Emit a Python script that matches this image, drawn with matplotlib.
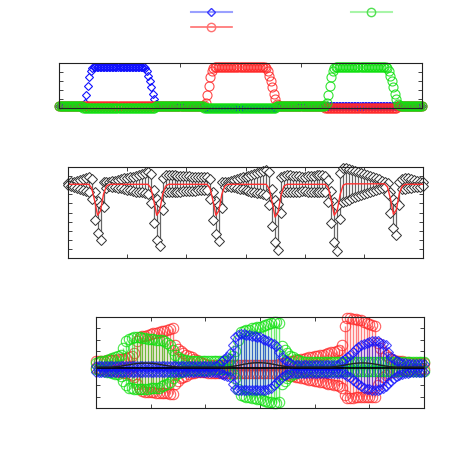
import numpy as np
import matplotlib.pyplot as plt
from matplotlib.lines import Line2D

# --- 1. Top panel: three pulses (x from 0 to 6, step 0.025) ---
x_top = np.linspace(0, 6, 241)
rise = [0.06, 0.12, 0.3, 0.5, 0.68, 0.82, 0.89, 0.91]
fall = [0.91, 0.88, 0.82, 0.72, 0.6, 0.46, 0.32, 0.2, 0.1, 0.06]
blue_top = ([0.05] * 16 + rise + [0.92] * 32 + fall
            + [0.05] * 30 + [-0.01] * 48 + [0.05] * 97)
red_top = ([0.05] * 96 + rise + [0.92] * 32 + fall
           + [0.05] * 30 + [0.0] * 48 + [0.05] * 17)
green_top = ([0.05] * 16 + [-0.01] * 48 + [0.05] * 32 + [-0.01] * 48
             + [0.05] * 32 + rise + [0.92] * 32 + fall + [0.05] * 15)

# --- 2. Middle panel: mean with min/max (x from 0 to 6, step 0.05) ---
x_mid = np.linspace(0, 6, 121)
mid_upper = [8.2, 8.3, 8.4, 8.5, 8.6, 8.7, 8.8, 8.9,
             8.7, 7.2, 6.3, 5.8, 8.4, 8.3,
             8.35, 8.45, 8.5, 8.6, 8.65, 8.75, 8.8, 8.9, 8.95, 9.05, 9.1, 9.2, 9.3, 9.4,
             9.2, 7.5, 6.5, 6.0, 8.8, 9.1,
             9.1, 9.1, 9.1, 9.05, 9.05, 9.0, 9.0, 9.0, 8.95, 8.95, 8.9, 8.9, 8.9, 8.9,
             8.7, 7.3, 6.3, 5.8, 8.3, 8.3,
             8.35, 8.45, 8.55, 8.65, 8.75, 8.85, 8.95, 9.05, 9.15, 9.25, 9.35, 9.45, 9.55, 9.65,
             9.4, 7.6, 6.4, 5.9, 8.9, 9.0,
             9.1, 9.1, 9.05, 9.0, 9.0, 8.95, 8.95, 9.0, 9.0, 9.05, 9.1, 9.1, 9.1, 9.0,
             8.6, 7.4, 6.2, 5.7, 9.3, 9.9,
             9.85, 9.75, 9.65, 9.55, 9.45, 9.35, 9.25, 9.1, 9.0, 8.9, 8.75, 8.65, 8.5, 8.4,
             8.2, 7.2, 6.5, 6.1, 8.3, 8.7,
             8.8, 8.75, 8.7, 8.6, 8.5, 8.4, 8.35]
mid_mean = ([8.1] * 8 + [7.7, 6.3, 4.7, 5.2, 7.0, 7.9]
            + [8.1] * 14 + [7.7, 6.3, 4.7, 5.2, 7.0, 7.9]
            + [8.1] * 14 + [7.7, 6.3, 4.7, 5.2, 7.0, 7.9]
            + [8.1] * 14 + [7.6, 6.1, 4.5, 5.0, 6.9, 7.9]
            + [8.1] * 14 + [7.7, 6.3, 4.7, 5.2, 7.0, 8.0]
            + [8.15] * 14 + [7.8, 6.5, 4.8, 5.3, 7.1, 7.9]
            + [8.1] * 7)
mid_lower = [8.0, 7.9, 7.8, 7.7, 7.6, 7.5, 7.4, 7.3,
             6.5, 4.2, 2.7, 2.0, 5.6, 7.7,
             7.9, 7.85, 7.8, 7.7, 7.65, 7.6, 7.5, 7.45, 7.4, 7.3, 7.25, 7.2, 7.1, 7.0,
             6.0, 3.8, 2.0, 1.3, 5.3, 7.2,
             7.25, 7.25, 7.3, 7.3, 7.3, 7.35, 7.35, 7.4, 7.4, 7.4, 7.45, 7.45, 7.5, 7.5,
             6.5, 4.2, 2.6, 1.9, 5.5, 7.8,
             7.9, 7.85, 7.75, 7.7, 7.6, 7.55, 7.45, 7.4, 7.3, 7.25, 7.15, 7.1, 7.0, 6.9,
             5.8, 3.5, 1.8, 0.9, 5.0, 7.2,
             7.25, 7.25, 7.3, 7.3, 7.3, 7.35, 7.35, 7.3, 7.3, 7.3, 7.25, 7.25, 7.3, 7.3,
             6.2, 3.8, 1.8, 0.8, 4.3, 6.2,
             6.3, 6.4, 6.55, 6.65, 6.8, 6.9, 7.0, 7.15, 7.25, 7.35, 7.5, 7.6, 7.7, 7.8,
             7.0, 5.0, 3.3, 2.5, 5.8, 7.6,
             7.6, 7.65, 7.7, 7.75, 7.8, 7.85, 7.9]

# --- 3. Bottom panel: three envelopes plus black curves (step 0.05) ---
x_bot = np.linspace(0, 6, 121)
red_hi = ([0.1, 0.1, 0.15, 0.15, 0.2, 0.2, 0.25, 0.25, 0.3, 0.3, 0.35, 0.4, 0.5, 0.6, 0.8]
          + [1.9, 2.2, 2.3, 2.35, 2.4, 2.5, 2.55, 2.6, 2.7, 2.75, 2.8, 2.9, 2.95, 3.0]
          + [1.5, 1.2, 1.0, 0.85, 0.7, 0.6, 0.45, 0.35, 0.25, 0.05, 0.0, -0.1]
          + [-0.2] * 26
          + [-0.1, -0.05, 0.0, 0.05, 0.1, 0.15, 0.2, 0.25, 0.3, 0.35, 0.4, 0.45,
             0.5, 0.55, 0.6, 0.65, 0.7, 0.75, 0.8, 0.9, 0.95, 1.0, 1.1]
          + [1.5, 3.2, 3.9]
          + [3.9, 3.85, 3.8, 3.75, 3.7, 3.6, 3.5, 3.4, 3.3]
          + [3.2, 1.7, 1.3, 0.95, 0.7, 0.5, 0.35, 0.25]
          + [0.15, 0.1, 0.1, 0.05, 0.05, 0.0, 0.0, 0.0, 0.0, 0.0, 0.0])
red_lo = ([-0.5, -0.55, -0.6, -0.6, -0.65, -0.7, -0.7, -0.75, -0.8, -0.85, -0.9, -0.95, -1.0, -1.1, -1.3]
          + [-1.9, -2.3, -2.5, -2.55, -2.6, -2.6, -2.6, -2.65, -2.65, -2.7, -2.7, -2.7, -2.75, -2.75]
          + [-1.9, -1.6, -1.4, -1.25, -1.15, -1.05, -0.95, -0.9, -0.85, -0.8, -0.8, -0.8]
          + [-0.9] * 26
          + [-0.95, -1.0, -1.05, -1.1, -1.15, -1.2, -1.25, -1.3, -1.35, -1.4, -1.45, -1.5,
             -1.55, -1.6, -1.65, -1.7, -1.75, -1.8, -1.85, -1.9, -1.95, -2.0, -2.05]
          + [-2.2, -2.9, -3.1]
          + [-3.1, -3.1, -3.05, -3.05, -3.0, -3.0, -3.0, -3.0, -3.0]
          + [-3.0, -2.0, -1.6, -1.3, -1.1, -0.95, -0.85, -0.8]
          + [-0.75, -0.7, -0.7, -0.65, -0.65, -0.6, -0.6, -0.6, -0.6, -0.6, -0.6])
green_hi = ([0.0, 0.05, 0.1, 0.15, 0.25, 0.3, 0.4, 0.5, 0.6, 0.7]
            + [1.3, 1.9, 2.1, 2.15, 2.2, 2.2, 2.2, 2.15, 2.15, 2.1, 2.1, 2.05, 2.0, 2.0,
               1.95, 1.9, 1.75, 1.55, 1.1]
            + [0.7, 0.5, 0.35, 0.25, 0.2]
            + [0.15] * 8 + [0.1] * 7
            + [0.3, 0.6, 1.0, 2.0]
            + [2.7, 2.8, 2.85, 2.9, 3.0, 3.05, 3.1, 3.15, 3.25, 3.3, 3.4, 3.45, 3.55, 3.6]
            + [3.5, 1.45, 1.1, 0.85, 0.6, 0.45, 0.3, 0.2, 0.15]
            + [0.05] * 45)
green_lo = ([-0.6, -0.65, -0.7, -0.75, -0.8, -0.85, -0.9, -1.0, -1.05, -1.15]
            + [-1.6, -2.0, -2.2, -2.25, -2.3, -2.3, -2.3, -2.3, -2.3, -2.3, -2.25, -2.25,
               -2.2, -2.2, -2.1, -2.0, -1.9, -1.7, -1.4]
            + [-1.1, -0.95, -0.85, -0.75, -0.7]
            + [-0.65] * 8 + [-0.6] * 7
            + [-0.7, -1.0, -1.4, -2.3]
            + [-2.9, -2.95, -3.0, -3.05, -3.1, -3.15, -3.2, -3.25, -3.3, -3.4, -3.45, -3.5, -3.55, -3.6]
            + [-3.5, -1.9, -1.6, -1.4, -1.2, -1.05, -0.95, -0.85, -0.8]
            + [-0.75] * 45)
blue_hi = ([-0.3] * 45
           + [-0.1, 0.1, 0.3, 0.5, 0.8, 1.5, 2.2, 2.4]
           + [2.5, 2.5, 2.45, 2.4, 2.35, 2.3, 2.25, 2.2, 2.1, 2.0]
           + [1.9, 1.75, 1.6, 1.45, 0.9, 0.5, 0.25, 0.1, 0.0]
           + [-0.2] * 18
           + [0.1, 0.3, 0.5, 0.7, 0.95, 1.15, 1.35, 1.5, 1.65, 1.75, 1.8, 1.85, 1.9,
              1.85, 1.75, 1.65, 1.5, 0.9, 0.5, 0.3, 0.15, 0.05, 0.0, -0.05, -0.1]
           + [-0.15] * 6)
blue_lo = ([-0.85] * 45
           + [-0.95, -1.0, -1.1, -1.15, -1.3, -1.9, -2.3, -2.4]
           + [-2.4] * 10
           + [-2.35, -2.2, -2.0, -1.8, -1.5, -1.25, -1.1, -1.0, -0.95]
           + [-0.9] * 18
           + [-0.95, -1.05, -1.15, -1.3, -1.5, -1.7, -1.9, -2.05, -2.2, -2.3, -2.35, -2.4, -2.4,
              -2.4, -2.3, -2.2, -2.05, -1.8, -1.6, -1.4, -1.2, -1.1, -1.0, -0.95, -0.9]
           + [-0.8] * 6)
black_mean = [-0.5] * 121
black_wave = ([-0.4] * 6
              + [-0.39, -0.37, -0.35, -0.32, -0.28, -0.24, -0.2, -0.16, -0.12, -0.09, -0.07, -0.06, -0.05,
                 -0.06, -0.07, -0.09, -0.12, -0.16, -0.2, -0.24, -0.28, -0.32, -0.35, -0.37, -0.39]
              + [-0.4] * 17
              + [-0.39, -0.37, -0.34, -0.3, -0.26, -0.21, -0.16, -0.12, -0.08, -0.05, -0.03, -0.02, -0.02,
                 -0.03, -0.05, -0.08, -0.12, -0.16, -0.21, -0.26, -0.3, -0.34, -0.37, -0.39, -0.4]
              + [-0.4] * 13
              + [-0.39, -0.37, -0.35, -0.31, -0.27, -0.23, -0.18, -0.14, -0.1, -0.07, -0.05, -0.04, -0.04,
                 -0.05, -0.07, -0.1, -0.14, -0.18, -0.23, -0.27, -0.31, -0.35, -0.37, -0.39, -0.4]
              + [-0.4] * 10)

BLUE = '#1010ff'
RED = '#ff2a2a'
GREEN = '#10e010'


def frame(ax, xmax, yticks):
    ax.set_xlim(0, xmax)
    ax.set_xticks(range(0, xmax + 1))
    ax.set_yticks(yticks)
    ax.tick_params(direction='in', top=True, right=True, length=3, width=0.6,
                   labelbottom=False, labelleft=False, color='#222222')
    for s in ax.spines.values():
        s.set_linewidth(0.8)
        s.set_color('#222222')


# --- 4. Figure ---
fig = plt.figure(figsize=(4.5, 4.5), dpi=100)

ax1 = fig.add_axes([59 / 450, 1 - 108 / 450, 363 / 450, 45 / 450])
ax1.plot(x_top, blue_top, 'D', ms=4.5, mfc='none', mec=BLUE, mew=0.8, clip_on=False)
ax1.plot(x_top, red_top, 'o', ms=6.5, mfc='none', mec=RED, mew=0.8, alpha=0.85, clip_on=False)
ax1.plot(x_top, green_top, 'o', ms=6.5, mfc='none', mec=GREEN, mew=0.8, alpha=0.85, clip_on=False)
ax1.set_ylim(0, 1)
frame(ax1, 6, [0.2, 0.4, 0.6, 0.8])

ax2 = fig.add_axes([68 / 450, 1 - 258 / 450, 355 / 450, 91 / 450])
ax2.vlines(x_mid, mid_lower, mid_upper, color='k', lw=0.9, alpha=0.6)
ax2.plot(x_mid, mid_upper, 'D', ms=4.6, mfc='white', mec='#303030', mew=0.7, clip_on=False)
ax2.plot(x_mid, mid_lower, 'D', ms=4.6, mfc='white', mec='#303030', mew=0.7, clip_on=False)
ax2.plot(x_mid, mid_mean, '-', color='#ff3030', lw=1.0)
ax2.set_ylim(0, 10)
frame(ax2, 6, range(1, 10))

ax3 = fig.add_axes([96 / 450, 1 - 408 / 450, 328 / 450, 91 / 450])
for hi, lo, col, mk, ms in [(red_hi, red_lo, RED, 'o', 7.5),
                            (green_hi, green_lo, GREEN, 'o', 7.5),
                            (blue_hi, blue_lo, BLUE, 'D', 5.5)]:
    ax3.vlines(x_bot, lo, hi, color=col, lw=1.0, alpha=0.6)
    ax3.plot(x_bot, hi, mk, ms=ms, mfc='none', mec=col, mew=0.8, alpha=0.75, clip_on=False)
    ax3.plot(x_bot, lo, mk, ms=ms, mfc='none', mec=col, mew=0.8, alpha=0.75, clip_on=False)
ax3.plot(x_bot, black_mean, '-', color='k', lw=1.2)
ax3.plot(x_bot, black_wave, '-', color='#222222', lw=1.0)
ax3.set_ylim(-4, 4)
frame(ax3, 6, range(-3, 4))

# --- 5. Legend (no labels, as in the original) ---
handles = [Line2D([], [], color='#9aa0ff', lw=1.5, marker='D', ms=4.5, mfc='none', mec='#3a3aff'),
           Line2D([], [], color='#ff7070', lw=1.2, marker='o', ms=6, mfc='none', mec='#ff7070'),
           Line2D([], [], color='#a8f5a8', lw=1.5, marker='o', ms=6, mfc='none', mec='#50e050')]
fig.legend(handles, ['', '', ''], ncol=2, loc='upper left',
           bbox_to_anchor=(191 / 450, 1 - 6 / 450), frameon=False,
           handlelength=2.95, handletextpad=0, columnspacing=8.57,
           borderpad=0, borderaxespad=0, labelspacing=0.03, numpoints=1)

plt.savefig('out.png')
